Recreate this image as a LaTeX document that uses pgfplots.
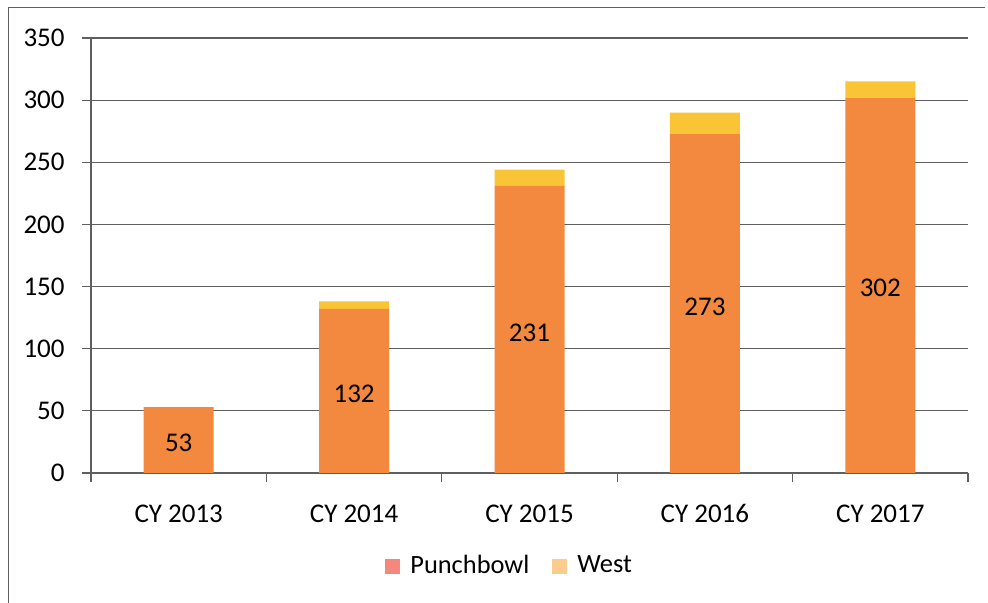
\documentclass[border=0pt]{standalone}
\usepackage{fontspec}
\setmainfont{Carlito}
\usepackage{pgfplots}
\pgfplotsset{compat=1.18}
\definecolor{pb}{RGB}{243,137,62}
\definecolor{wst}{RGB}{250,196,55}
\definecolor{pbleg}{RGB}{245,135,125}
\definecolor{wleg}{RGB}{250,205,140}
\definecolor{gridc}{RGB}{95,95,95}
\begin{document}
\fontsize{13.5}{16}\selectfont
\begin{tikzpicture}
\begin{axis}[
  scale only axis, width=438.5pt, height=217.5pt,
  ybar stacked, bar width=35pt,
  xmin=-0.5, xmax=4.5, ymin=0, ymax=350,
  axis lines*=left,
  axis line style={gridc, line width=0.6pt},
  ytick={0,50,...,350},
  ymajorgrids, grid style={gridc, line width=0.6pt},
  xtick={0,1,2,3,4},
  xticklabels={CY 2013,CY 2014,CY 2015,CY 2016,CY 2017},
  major x tick style={draw=none},
  minor xtick={-0.5,0.5,1.5,2.5,3.5,4.5},
  tick align=outside,
  major tick length=4.5pt, minor tick length=4.5pt,
  tick style={gridc, line width=0.6pt},
  yticklabel style={xshift=-4pt},
  xticklabel style={yshift=-6pt, text height=9.5pt, text depth=2.5pt},
  /pgf/number format/assume math mode=true,
  ticklabel style={font=\fontsize{13.5}{16}\selectfont},
  legend style={at={(0.4785,-0.214)}, anchor=center, draw=none, fill=none,
    legend columns=2, font=\fontsize{13.2}{16}\selectfont,
    /tikz/every odd column/.append style={column sep=3pt},
    /tikz/every even column/.append style={column sep=9.5pt}},
  legend image code/.code={\fill[#1, draw=none] (0pt,-3.75pt) rectangle (7.5pt,3.75pt);},
]
\addplot+[fill=pb, draw=none, forget plot,
  nodes near coords,
  every node near coord/.append style={anchor=center, text=black,
    font=\fontsize{13.5}{16}\selectfont, yshift=-1.5pt}]
  coordinates {(0,53) (1,132) (2,231) (3,273) (4,302)};
\addplot+[fill=wst, draw=none, forget plot]
  coordinates {(0,0) (1,6) (2,13) (3,17) (4,13)};
\addlegendimage{fill=pbleg, draw=none}
\addlegendentry{Punchbowl}
\addlegendimage{fill=wleg, draw=none}
\addlegendentry{West}
\end{axis}
\draw[gridc, line width=0.5pt] ([xshift=-41pt,yshift=-65pt]current axis.south west) |- ([xshift=447pt,yshift=232.5pt]current axis.south west);
\pgfresetboundingbox
\useasboundingbox ([xshift=-45.5pt,yshift=-65pt]current axis.south west) rectangle ++(494pt,301.5pt);
\end{tikzpicture}
\end{document}
